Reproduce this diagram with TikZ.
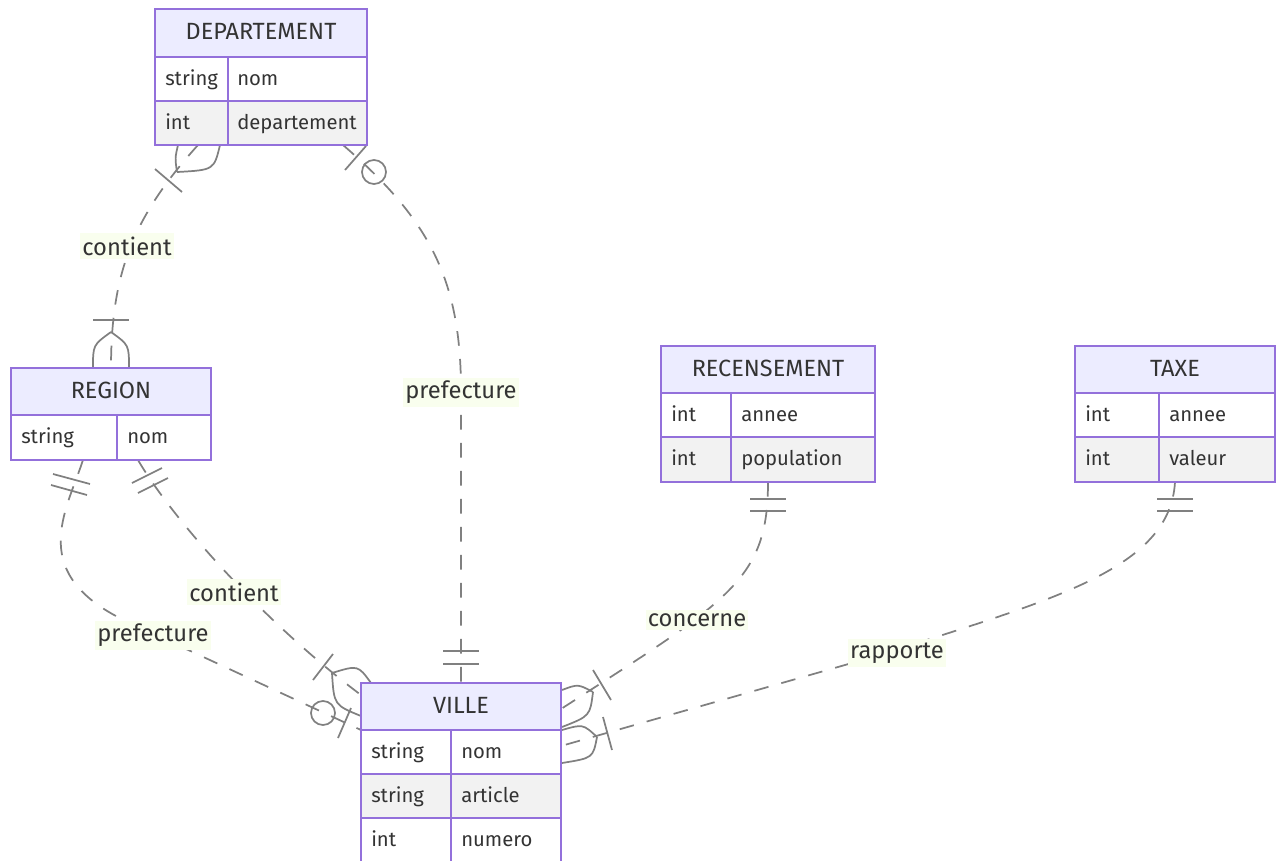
\documentclass[tikz,border=0pt]{standalone}
\usepackage{fontspec}
\setmainfont{Fira Sans}
\definecolor{ebord}{HTML}{9370DB}
\definecolor{etitle}{HTML}{ECECFF}
\definecolor{eodd}{HTML}{FFFFFF}
\definecolor{eeven}{HTML}{F2F2F2}
\definecolor{etext}{HTML}{333333}
\definecolor{lcol}{HTML}{808080}
\definecolor{lblbg}{HTML}{F9FEEE}
\tikzset{
  conn/.style={draw=lcol, line width=1.3pt, dash pattern=on 11pt off 10pt},
  mk/.style={draw=lcol, line width=1.3pt},
  ebox/.style={draw=ebord, line width=1.4pt},
  ttl/.style={text=etext, font=\fontsize{17.6}{20}\selectfont, inner sep=0pt, text height=0.7em, text depth=0pt, yshift=-1.6pt},
  attr/.style={text=etext, font=\fontsize{15.2}{18}\selectfont, inner sep=0pt, anchor=west, text height=0.7em, text depth=0.2em, yshift=-2pt},
  lbl/.style={text=etext, fill=lblbg, font=\fontsize{17.8}{20}\selectfont, inner xsep=1.5pt, inner ysep=2.5pt}
}
\begin{document}
\begin{tikzpicture}[x=0.75pt, y=-0.75pt]
\useasboundingbox (0,0) rectangle (1283,861);
% ---------- connector end points ----------
\coordinate (c1a) at (198,145);  \coordinate (c1b) at (111,368);
\coordinate (c2a) at (343,145);  \coordinate (c2m) at (461,391); \coordinate (c2b) at (461,683);
\coordinate (c3a) at (83,460);   \coordinate (c3m) at (130,623); \coordinate (c3b) at (361,730);
\coordinate (c4a) at (138,460);  \coordinate (c4b) at (365,698);
\coordinate (c5a) at (768,482);  \coordinate (c5b) at (561,709);
\coordinate (c6a) at (1175,482); \coordinate (c6m) at (880,655); \coordinate (c6b) at (561,746);
% ---------- connectors ----------
\draw[conn] (c1a) .. controls (135,215) and (111,270) .. (c1b);
\draw[conn] (c2a) .. controls (430,220) and (461,280) .. (c2m) -- (c2b);
\draw[conn] (c3a) .. controls (66,512) and (25,575) .. (c3m) -- (c3b);
\draw[conn] (c4a) .. controls (170,515) and (260,620) .. (c4b);
\draw[conn] (c5a) .. controls (768,580) and (730,600) .. (c5b);
\draw[conn] (c6a) .. controls (1170,570) and (1050,600) .. (c6m) -- (c6b);
% ---------- markers ----------
% DEPARTEMENT end of contient (one or more)
\draw[mk] (178,145) .. controls (175,158) .. (177,172);
\draw[mk] (220,145) .. controls (214,170) .. (177,172);
\draw[mk] (155,169) -- (182,192);
% REGION top end of contient (one or more)
\draw[mk] (93,368) .. controls (93,345) .. (111,332);
\draw[mk] (129,368) .. controls (129,345) .. (111,332);
\draw[mk] (93,320) -- (129,320);
% DEPARTEMENT end of prefecture (zero or one)
\draw[mk] (345,170) -- (366,146);
\draw[mk] (374,172) circle[radius=9pt];
% VILLE top end of prefecture (exactly one)
\draw[mk] (443,651) -- (479,651);
\draw[mk] (443,664) -- (479,664);
% REGION end of prefecture (exactly one)
\draw[mk] (53,474) -- (90,484);
\draw[mk] (51,485) -- (87,495);
% REGION end of contient (exactly one)
\draw[mk] (132,483) -- (162,468);
\draw[mk] (138,493) -- (168,478);
% VILLE end of contient (one or more)
\draw[mk] (332,673) .. controls (358,665) .. (371,683);
\draw[mk] (332,673) .. controls (334,705) .. (361,716);
\draw[mk] (313,680) -- (333,654);
% VILLE end of prefecture (zero or one)
\draw[mk] (323,713) circle[radius=9pt];
\draw[mk] (338,738) -- (351,708);
% RECENSEMENT end (exactly one)
\draw[mk] (750,499) -- (786,499);
\draw[mk] (750,511) -- (786,511);
% VILLE end of concerne (one or more)
\draw[mk] (562,690) .. controls (578,684) .. (593,692);
\draw[mk] (593,692) .. controls (590,716) .. (562,727);
\draw[mk] (593,670) -- (611,700);
% TAXE end (exactly one)
\draw[mk] (1157,499) -- (1193,499);
\draw[mk] (1157,511) -- (1193,511);
% VILLE end of rapporte (one or more)
\draw[mk] (562,730) .. controls (583,724) .. (597,737);
\draw[mk] (597,737) .. controls (593,758) .. (562,763);
\draw[mk] (603,717) -- (612,750);
% ---------- DEPARTEMENT ----------
\fill[etitle] (155,9) rectangle (367,57);
\fill[eodd] (155,57) rectangle (367,101);
\fill[eeven] (155,101) rectangle (367,145);
\draw[ebox] (155,9) rectangle (367,145);
\draw[ebox] (155,57) -- (367,57) (155,101) -- (367,101) (228,57) -- (228,145);
\node[ttl] (dep) at (261,33) {DEPARTEMENT};
\node[attr] (dep11) at (165,79) {string};
\node[attr] (dep12) at (237,79) {nom};
\node[attr] (dep21) at (165,123) {int};
\node[attr] (dep22) at (237,123) {departement};
% ---------- REGION ----------
\fill[etitle] (11,368) rectangle (211,415);
\fill[eodd] (11,415) rectangle (211,460);
\draw[ebox] (11,368) rectangle (211,460);
\draw[ebox] (11,415) -- (211,415) (117,415) -- (117,460);
\node[ttl] (reg) at (111,391.5) {REGION};
\node[attr] (reg11) at (21,437.5) {string};
\node[attr] (reg12) at (127,437.5) {nom};
% ---------- RECENSEMENT ----------
\fill[etitle] (661,346) rectangle (875,393);
\fill[eodd] (661,393) rectangle (875,437);
\fill[eeven] (661,437) rectangle (875,482);
\draw[ebox] (661,346) rectangle (875,482);
\draw[ebox] (661,393) -- (875,393) (661,437) -- (875,437) (731,393) -- (731,482);
\node[ttl] (rec) at (768,369.5) {RECENSEMENT};
\node[attr] (rec11) at (671,415) {int};
\node[attr] (rec12) at (741,415) {annee};
\node[attr] (rec21) at (671,459.5) {int};
\node[attr] (rec22) at (741,459.5) {population};
% ---------- TAXE ----------
\fill[etitle] (1075,346) rectangle (1275,393);
\fill[eodd] (1075,393) rectangle (1275,437);
\fill[eeven] (1075,437) rectangle (1275,482);
\draw[ebox] (1075,346) rectangle (1275,482);
\draw[ebox] (1075,393) -- (1275,393) (1075,437) -- (1275,437) (1159,393) -- (1159,482);
\node[ttl] (tax) at (1175,369.5) {TAXE};
\node[attr] (tax11) at (1085,415) {int};
\node[attr] (tax12) at (1169,415) {annee};
\node[attr] (tax21) at (1085,459.5) {int};
\node[attr] (tax22) at (1169,459.5) {valeur};
% ---------- VILLE ----------
\fill[etitle] (361,683) rectangle (561,730);
\fill[eodd] (361,730) rectangle (561,774);
\fill[eeven] (361,774) rectangle (561,818);
\fill[eodd] (361,818) rectangle (561,862);
\draw[ebox] (361,683) rectangle (561,862);
\draw[ebox] (361,730) -- (561,730) (361,774) -- (561,774) (361,818) -- (561,818) (451,730) -- (451,862);
\node[ttl] (vil) at (461,706.5) {VILLE};
\node[attr] (vil11) at (371,752) {string};
\node[attr] (vil12) at (461,752) {nom};
\node[attr] (vil21) at (371,796) {string};
\node[attr] (vil22) at (461,796) {article};
\node[attr] (vil31) at (371,840) {int};
\node[attr] (vil32) at (461,840) {numero};
% ---------- labels ----------
\node[lbl] (l1) at (127,246) {contient};
\node[lbl] (l2) at (461,392.5) {prefecture};
\node[lbl] (l3) at (234,592) {contient};
\node[lbl] (l4) at (153,635.5) {prefecture};
\node[lbl] (l5) at (697,620) {concerne};
\node[lbl] (l6) at (897,653) {rapporte};
\end{tikzpicture}
\end{document}
